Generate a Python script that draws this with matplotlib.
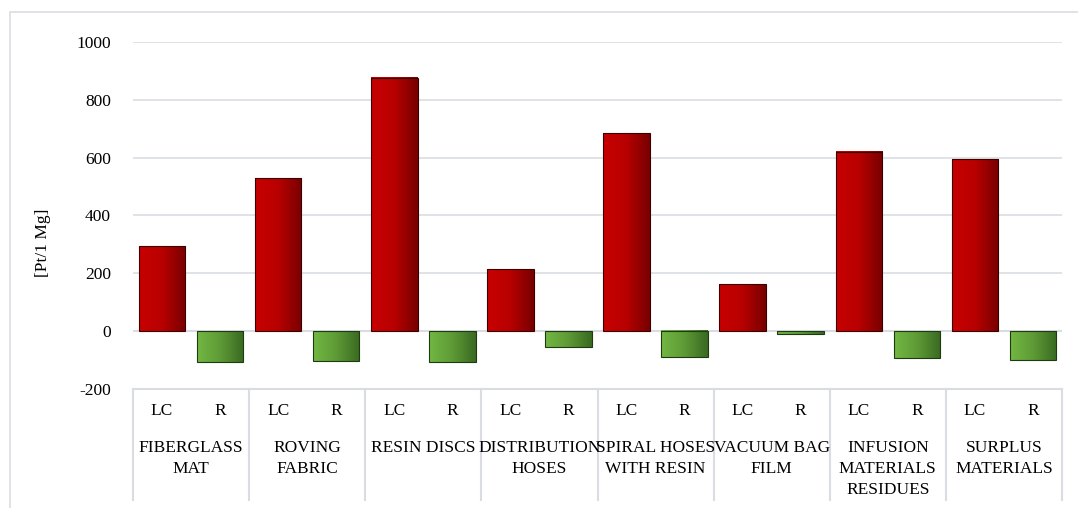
import numpy as np
import matplotlib
matplotlib.use("Agg")
import matplotlib.pyplot as plt
from matplotlib.colors import LinearSegmentedColormap

groups = ["FIBERGLASS\nMAT", "ROVING\nFABRIC", "RESIN DISCS", "DISTRIBUTION\nHOSES",
          "SPIRAL HOSES\nWITH RESIN", "VACUUM BAG\nFILM", "INFUSION\nMATERIALS\nRESIDUES",
          "SURPLUS\nMATERIALS"]
sub_labels = ["LC", "R"]
lc_values = [293, 528, 877, 214, 684, 162, 621, 594]
r_values = [-107, -103, -107, -55, -90, -10, -93, -100]

plt.rcParams['font.family'] = ['Liberation Serif', 'DejaVu Serif']
plt.rcParams['axes.unicode_minus'] = False
FS = 12.5

fig = plt.figure(figsize=(10.78, 5.08), dpi=100)
W, H = 1078, 508
ax = fig.add_axes([133 / W, 1 - 389 / H, (1062 - 133) / W, (389 - 42) / H])

red_cmap = LinearSegmentedColormap.from_list("red", ["#C80000", "#B80000", "#780000"])
green_cmap = LinearSegmentedColormap.from_list("green", ["#72B743", "#5E9A36", "#3A6A22"])
grad = np.linspace(0, 1, 64).reshape(1, -1)

n = len(groups)
x_lc = np.arange(n) * 2
x_r = x_lc + 1
width = 0.8

bars_lc = ax.bar(x_lc, lc_values, width, color="none", edgecolor="#3a0000", linewidth=0.8, zorder=3)
bars_r = ax.bar(x_r, r_values, width, color="none", edgecolor="#1e3a10", linewidth=0.8, zorder=3)

# gradient fill inside each bar
for bars, cmap in [(bars_lc, red_cmap), (bars_r, green_cmap)]:
    for b in bars:
        x0 = b.get_x()
        y0 = b.get_y()
        ax.imshow(grad, cmap=cmap, aspect="auto", zorder=2,
                  extent=[x0, x0 + b.get_width(), y0, y0 + b.get_height()])

ax.set_xlim(-0.5, 2 * n - 0.5)
ax.set_ylim(-200, 1000)
ax.set_yticks(range(-200, 1001, 200))
ax.yaxis.grid(True, color="#D9DDE3", linewidth=1.2, zorder=0)
ax.set_axisbelow(True)
for s in ["top", "right", "left", "bottom"]:
    ax.spines[s].set_visible(False)
ax.tick_params(axis="y", length=0, labelsize=FS, pad=16, colors="#000000")
ax.tick_params(axis="x", length=0, labelbottom=False)
ax.axhline(0, color="#D9DDE3", linewidth=1.5, zorder=1)
ax.set_ylabel("[Pt/1 Mg]", fontsize=FS)
ax.yaxis.set_label_coords(-82 / 929, 0.42)

# multi-level category axis below the plot
trans = ax.get_xaxis_transform()
px = 1 / (389 - 42)
ax.plot([-0.5, 2 * n - 0.5], [0, 0], transform=trans, color="#D9DDE3", lw=1.5, clip_on=False)
for k in range(n + 1):
    xb = 2 * k - 0.5
    ax.plot([xb, xb], [0, -111 * px], transform=trans, color="#D9DDE3", lw=1.5, clip_on=False)
for k in range(n):
    ax.text(x_lc[k], -22 * px, sub_labels[0], transform=trans, ha="center", va="center", fontsize=FS)
    ax.text(x_r[k], -22 * px, sub_labels[1], transform=trans, ha="center", va="center", fontsize=FS)
    ax.text(x_lc[k] + 0.5, -51 * px, groups[k], transform=trans, ha="center", va="top",
            fontsize=FS, linespacing=1.4)

# light chart frame (runs off the right and bottom edges like the source)
fig.patches.append(plt.Rectangle((10 / W, -0.05), 1.2, 1 - 12 / H + 0.05, transform=fig.transFigure,
                                 fill=False, edgecolor="#D9DDE3", linewidth=1.2))

fig.savefig("out.png", dpi=100)
